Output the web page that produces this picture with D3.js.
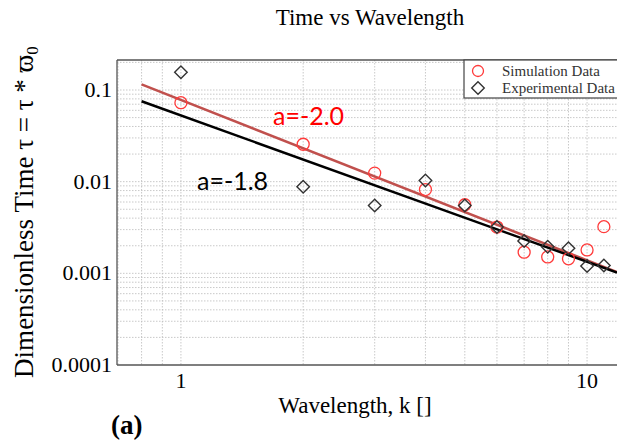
<!DOCTYPE html>
<html>
<head>
<meta charset="utf-8">
<script src="https://cdn.jsdelivr.net/npm/d3@7"></script>
<style>
  body { margin: 0; background: #fff; }
  svg { display: block; }
  .grid line { stroke: #bbb; stroke-dasharray: 1.5 1.5; stroke-width: 0.8; }
  text { font-family: "Liberation Serif", "DejaVu Serif", serif; }
</style>
</head>
<body>
<svg id="canvas" width="617" height="444"></svg>
<script>
// wavelength k and dimensionless time
let wavelength = [1, 2, 3, 4, 5, 6, 7, 8, 9, 10, 11]
let simTime = [0.0727, 0.0256, 0.0124, 0.0082, 0.0056, 0.0032, 0.0017, 0.00151, 0.00144, 0.0018, 0.00323]
let expTime = [0.156, 0.0088, 0.0055, 0.0103, 0.0055, 0.0032, 0.00225, 0.00195, 0.00188, 0.0012, 0.00122]

// fit lines, end points in data space
let fitK = [0.8, 11.85]
let simFit = [0.115, 0.00103]
let expFit = [0.0753, 0.00102]

let yTicks = [0.1, 0.01, 0.001, 0.0001]
let yTickLabels = ['0.1', '0.01', '0.001', '0.0001']
let xTicks = [1, 10]
let xTickLabels = ['1', '10']
let legendLabels = ['Simulation Data', 'Experimental Data']

let canvas = d3.select('#canvas')

var margin = {top: 60, left: 117, right: 0, bottom: 79},
    width = 617 - margin.left - margin.right,
    height = 444 - margin.top - margin.bottom;

let x = d3.scaleLog().domain([0.696, 11.85]).range([margin.left, margin.left + width])
let y = d3.scaleLog().domain([0.0001, 0.2125]).range([margin.top + height, margin.top])

// grid
let xGrid = []
for (let d = 0.1; d <= 10; d *= 10) for (let m = 1; m <= 9; m++) xGrid.push(d * m)
xGrid = xGrid.filter(v => v >= 0.7 && v <= 11.8)
let yGrid = []
for (let d = 0.0001; d <= 0.1; d *= 10) for (let m = 1; m <= 9; m++) yGrid.push(d * m)
yGrid = yGrid.filter(v => v > 0.0001 && v < 0.21)

let grid = canvas.append('g').attr('class', 'grid')
grid.selectAll('.gx').data(xGrid).enter().append('line')
    .attr('x1', d => x(d)).attr('x2', d => x(d))
    .attr('y1', margin.top).attr('y2', margin.top + height)
grid.selectAll('.gy').data(yGrid).enter().append('line')
    .attr('y1', d => y(d)).attr('y2', d => y(d))
    .attr('x1', margin.left).attr('x2', margin.left + width)

// frame
canvas.append('line').attr('x1', margin.left).attr('x2', margin.left + width)
    .attr('y1', margin.top).attr('y2', margin.top).attr('stroke', '#555').attr('stroke-width', 1.3)
canvas.append('line').attr('x1', margin.left).attr('x2', margin.left)
    .attr('y1', margin.top).attr('y2', margin.top + height).attr('stroke', '#555').attr('stroke-width', 1.3)
canvas.append('line').attr('x1', margin.left).attr('x2', margin.left + width)
    .attr('y1', margin.top + height).attr('y2', margin.top + height).attr('stroke', '#555').attr('stroke-width', 1.5)

// tick labels
canvas.selectAll('.ytl').data(yTicks).enter().append('text')
    .attr('x', margin.left - 5).attr('y', d => y(d) + 7)
    .attr('text-anchor', 'end').attr('font-size', 22)
    .text((d, i) => yTickLabels[i])
canvas.selectAll('.xtl').data(xTicks).enter().append('text')
    .attr('x', d => x(d)).attr('y', margin.top + height + 23)
    .attr('text-anchor', 'middle').attr('font-size', 22)
    .text((d, i) => xTickLabels[i])

// fit lines
let line = d3.line().x(d => x(d[0])).y(d => y(d[1]))
canvas.append('path').datum(fitK.map((k, i) => [k, simFit[i]]))
    .attr('d', line).attr('fill', 'none').attr('stroke', '#c0504d').attr('stroke-width', 2.5)
canvas.append('path').datum(fitK.map((k, i) => [k, expFit[i]]))
    .attr('d', line).attr('fill', 'none').attr('stroke', '#000').attr('stroke-width', 2.5)

// points
canvas.selectAll('circle.sim').data(wavelength).enter().append('circle')
    .attr('class', 'sim')
    .attr('cx', d => x(d)).attr('cy', (d, i) => y(simTime[i])).attr('r', 6)
    .attr('fill', 'none').attr('stroke', '#ff3b3b').attr('stroke-width', 1.3)

let diamond = d3.symbol().type(d3.symbolDiamond2).size(100)
canvas.selectAll('path.exp').data(wavelength).enter().append('path')
    .attr('class', 'exp')
    .attr('d', diamond)
    .attr('transform', (d, i) => 'translate(' + x(d) + ',' + y(expTime[i]) + ')')
    .attr('fill', 'none').attr('stroke', '#333').attr('stroke-width', 1.4)

// slope annotations
canvas.append('text').attr('x', 273).attr('y', 125)
    .style('font-family', 'Lato, "Open Sans", sans-serif').attr('font-size', 25)
    .attr('fill', '#ff0000').text('a=-2.0')
canvas.append('text').attr('x', 197).attr('y', 190)
    .style('font-family', 'Lato, "Open Sans", sans-serif').attr('font-size', 25)
    .attr('fill', '#000').text('a=-1.8')

// legend
let legend = canvas.append('g')
legend.append('rect').attr('x', 464).attr('y', margin.top).attr('width', 160).attr('height', 38)
    .attr('fill', '#fff').attr('stroke', '#444').attr('stroke-width', 1.2)
legend.append('circle').attr('cx', 478).attr('cy', 71).attr('r', 5.5)
    .attr('fill', 'none').attr('stroke', '#ff3b3b').attr('stroke-width', 1.3)
legend.append('path').attr('d', diamond).attr('transform', 'translate(478,88)')
    .attr('fill', 'none').attr('stroke', '#333').attr('stroke-width', 1.4)
legend.selectAll('.lt').data(legendLabels).enter().append('text')
    .attr('x', 502).attr('y', (d, i) => 76 + i * 17).attr('font-size', 15)
    .attr('fill', '#333').text(d => d)

// titles
canvas.append('text').attr('x', 370).attr('y', 25).attr('text-anchor', 'middle')
    .attr('font-size', 23).text('Time vs Wavelength')
canvas.append('text').attr('x', 355).attr('y', 413).attr('text-anchor', 'middle')
    .attr('font-size', 23).text('Wavelength, k []')
canvas.append('text').attr('x', 111).attr('y', 434)
    .attr('font-size', 27).attr('font-weight', 'bold').text('(a)')
let yl = canvas.append('text').attr('transform', 'translate(33,212) rotate(-90)')
    .attr('text-anchor', 'middle').attr('font-size', 27)
yl.append('tspan').text('Dimensionless Time τ = τ * ϖ')
yl.append('tspan').attr('font-size', 17).attr('dy', 5).text('0')
</script>
</body>
</html>
